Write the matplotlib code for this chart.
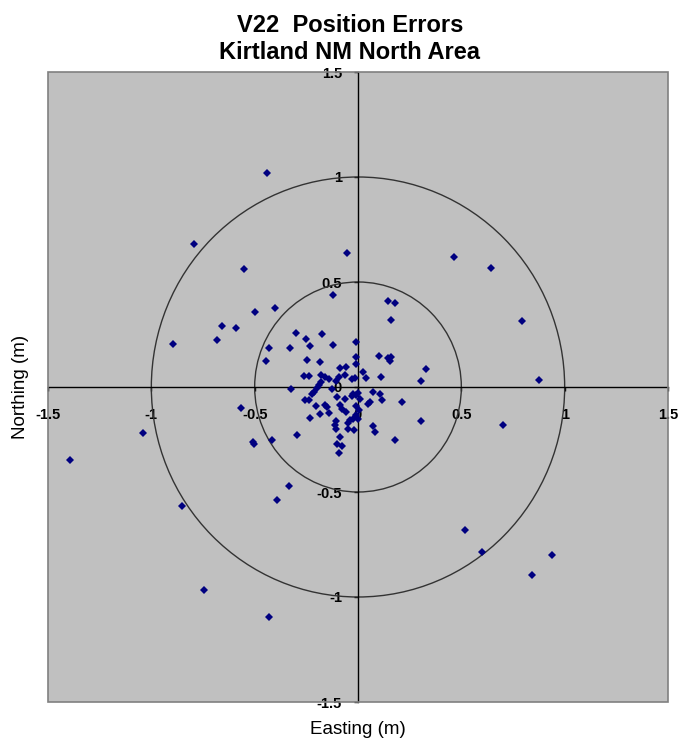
import numpy as np
import matplotlib
matplotlib.use("Agg")
from matplotlib import pyplot as plt
from matplotlib.patches import Circle, Rectangle

plt.rcParams['axes.unicode_minus'] = False

# position errors (m)
easting = [
  -0.121, 0.145, 0.178, -0.500, -0.400, 0.162, -0.298, -0.176, -0.250, -0.230,
  -0.431, -0.331, -0.119, -0.008, -0.447, -0.245, -0.185, -0.008, -0.011, 0.102,
  0.145, 0.162, 0.157, 0.331, 0.304, -0.089, -0.056, 0.024, 0.037, 0.113,
  -0.263, -0.237, -0.177, -0.161, -0.140, -0.092, -0.064, -0.027, -0.016, -0.105,
  -0.177, -0.189, -0.199, -0.215, -0.221, -0.326, -0.124, -0.024, -0.008, 0.000,
  0.008, 0.073, 0.105, 0.118, 0.215, 0.048, 0.060, -0.100, -0.064, -0.258,
  -0.237, -0.205, -0.161, -0.150, -0.089, -0.077, -0.056, -0.185, -0.140, -0.234,
  -0.008, 0.000, -0.024, -0.040, -0.048, -0.105, -0.113, -0.108, -0.048, -0.021,
  0.073, 0.081, 0.304, -0.295, -0.415, -0.508, -0.504, -0.089, -0.100, -0.076,
  -0.092, 0.178, -0.568, -0.012, 0.004, -0.030,
  -0.439, -0.792, -0.550, -0.053, -0.659, -0.589, -0.683, -0.896,
  0.465, 0.644, 0.794, 0.878, 0.704,
  -1.395, -1.039, -0.852, -0.744, -0.429, -0.334, -0.394,
  0.517, 0.600, 0.938, 0.843,
]
northing = [
  0.437, 0.410, 0.400, 0.357, 0.376, 0.321, 0.257, 0.254, 0.229, 0.195,
  0.186, 0.188, 0.200, 0.213, 0.122, 0.127, 0.121, 0.143, 0.111, 0.146,
  0.137, 0.143, 0.124, 0.084, 0.029, 0.092, 0.095, 0.071, 0.043, 0.048,
  0.054, 0.054, 0.056, 0.048, 0.038, 0.048, 0.056, 0.038, 0.041, 0.029,
  0.024, 0.008, -0.005, -0.024, -0.031, -0.008, -0.008, -0.031, -0.040, -0.030,
  -0.055, -0.025, -0.031, -0.060, -0.071, -0.082, -0.071, -0.048, -0.055, -0.060,
  -0.063, -0.092, -0.084, -0.095, -0.087, -0.103, -0.119, -0.127, -0.124, -0.148,
  -0.135, -0.151, -0.151, -0.159, -0.171, -0.162, -0.182, -0.198, -0.198, -0.203,
  -0.187, -0.214, -0.163, -0.230, -0.250, -0.262, -0.270, -0.238, -0.270, -0.281,
  -0.313, -0.250, -0.101, -0.090, -0.110, -0.045,
  1.021, 0.680, 0.562, 0.640, 0.289, 0.281, 0.222, 0.205,
  0.618, 0.565, 0.314, 0.033, -0.179,
  -0.346, -0.220, -0.568, -0.965, -1.095, -0.470, -0.536,
  -0.682, -0.786, -0.798, -0.893,
]

ring_radii = [0.5, 1.0]
tick_values = [-1.5, -1, -0.5, 0, 0.5, 1, 1.5]
tick_labels = ['-1.5', '-1', '-0.5', '0', '0.5', '1', '1.5']

sans = ['Liberation Sans', 'DejaVu Sans']

fig = plt.figure(figsize=(6.8, 7.44), dpi=100)
ax = fig.add_axes([48/680, 42/744, 620/680, 630/744])
ax.set_facecolor('#C0C0C0')

for r in ring_radii:
  ax.add_patch(Circle((0, 0), r, fill=False, edgecolor='#333333', linewidth=1.0, zorder=2))

ax.plot(easting, northing, 'D', color='#000080', markersize=4.4, markeredgewidth=0, zorder=3)

ax.set_xlim(-1.5, 1.5)
ax.set_ylim(-1.5, 1.5)

# axes cross at the origin, like the spreadsheet chart
ax.spines['left'].set_position(('data', 0))
ax.spines['bottom'].set_position(('data', 0))
ax.spines['top'].set_visible(False)
ax.spines['right'].set_visible(False)
for s in ['left', 'bottom']:
  ax.spines[s].set_color('black')
  ax.spines[s].set_linewidth(1.0)
  ax.spines[s].set_zorder(2.5)
ax.add_patch(Rectangle((0, 0), 1, 1, transform=ax.transAxes, fill=False,
                       edgecolor='#808080', linewidth=1.2, clip_on=False, zorder=4))

ax.set_xticks(tick_values)
ax.set_xticklabels(tick_labels)
ax.set_yticks(tick_values)
ax.set_yticklabels(tick_labels)
ax.tick_params(direction='out', length=3, width=1, colors='black')
ax.tick_params(axis='x', pad=12)
ax.tick_params(axis='y', pad=8.5)
for lab in ax.get_xticklabels() + ax.get_yticklabels():
  lab.set_fontweight('bold')
  lab.set_fontsize(10.5)
  lab.set_family(sans)

ax.set_xlabel('Easting (m)', fontsize=13.5, family=sans)
ax.set_ylabel('Northing (m)', fontsize=13.5, family=sans)
ax.xaxis.set_label_coords(0.5, -0.03)
ax.yaxis.set_label_coords(-0.03, 0.5)

fig.text(350/680, 1 - 64/744, 'V22  Position Errors\nKirtland NM North Area',
         ha='center', va='bottom', fontsize=17, fontweight='bold',
         family=['Liberation Sans Narrow'] + sans, linespacing=1.2)

fig.savefig('out.png', dpi=100, facecolor='white')
